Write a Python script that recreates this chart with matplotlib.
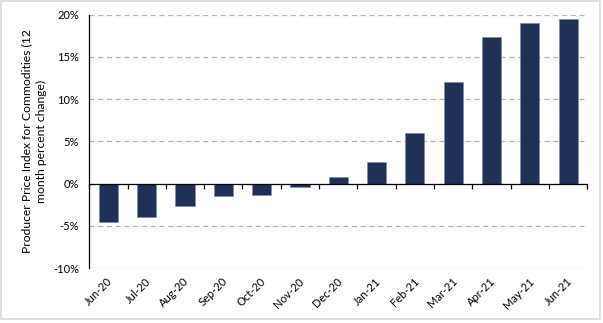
#!/usr/bin/python3

import numpy as np
import matplotlib
matplotlib.use('Agg')
import matplotlib.pyplot as plt
from matplotlib.patches import Rectangle
import matplotlib.transforms as mtransforms

# 12 month percent change, producer price index for commodities
months = ['Jun-20', 'Jul-20', 'Aug-20', 'Sep-20', 'Oct-20', 'Nov-20', 'Dec-20',
          'Jan-21', 'Feb-21', 'Mar-21', 'Apr-21', 'May-21', 'Jun-21']
ppi_change = [-4.6, -3.9, -2.6, -1.5, -1.4, -0.4, 0.8,
              2.5, 6.0, 12.0, 17.3, 19.0, 19.5]
y_ticks = [-10, -5, 0, 5, 10, 15, 20]


def main():
	plt.rcParams['font.family'] = ['Lato', 'DejaVu Sans']

	fig = plt.figure(figsize=(6.03, 3.23), dpi=100)
	ax = fig.add_axes([0.148, 0.170, 0.826, 0.785])

	x = np.arange(len(months))
	ax.bar(x, ppi_change, width=0.5, color='#1f3157', edgecolor='#7d8cab', linewidth=0.5, zorder=3)

	ax.set_xlim(-0.5, len(months) - 0.5)
	ax.set_ylim(-10, 20)
	ax.set_yticks(y_ticks)
	ax.set_yticklabels(['{}%'.format(v) for v in y_ticks], fontsize=8)
	ax.tick_params(axis='y', length=0, pad=7.5)

	# dashed gridlines, the -10 one stands in for the bottom spine
	ax.yaxis.grid(True, linestyle=(0, (4, 3)), color='#b4b4b4', linewidth=0.9, zorder=0)
	ax.spines['top'].set_visible(False)
	ax.spines['right'].set_visible(False)
	ax.spines['left'].set_linewidth(0.9)

	# x axis sits on the zero line, ticks between categories
	ax.spines['bottom'].set_position(('data', 0))
	ax.spines['bottom'].set_linewidth(0.9)
	ax.spines['bottom'].set_zorder(4)
	ax.set_xticks(x)
	ax.set_xticklabels([])
	ax.set_xticks(np.arange(len(months) + 1) - 0.5, minor=True)
	ax.tick_params(axis='x', which='major', length=0)
	ax.tick_params(axis='x', which='minor', length=3.5, width=0.9, direction='out')

	trans = mtransforms.blended_transform_factory(ax.transData, ax.transAxes)
	for i, m in enumerate(months):
		ax.text(i + 0.06, -0.045, m, transform=trans, rotation=45, ha='right', va='center',
		        rotation_mode='anchor', fontsize=8)

	ax.set_ylabel('Producer Price Index for Commodities (12\nmonth percent change)',
	              fontsize=8.7, labelpad=4, linespacing=1.45)

	# light frame round the figure
	fig.patches.append(Rectangle((0.002, 0.012), 0.993, 0.984, transform=fig.transFigure,
	                             fill=False, edgecolor='#d9d9d9', linewidth=1.2))

	plt.savefig('out.png', dpi=100)
	plt.close()


if __name__ == '__main__':
	main()
